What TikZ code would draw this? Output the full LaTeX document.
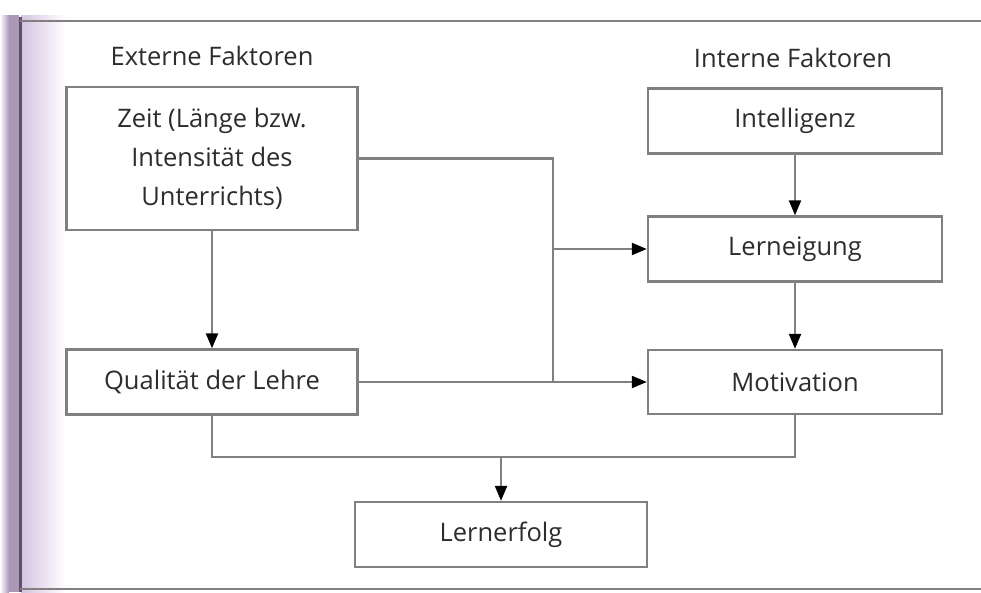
\documentclass[tikz,border=0pt]{standalone}
\usepackage{fontspec}
\setmainfont{Open Sans}
\usetikzlibrary{arrows.meta,positioning,calc}

\definecolor{linegray}{RGB}{128,128,128}
\definecolor{inkgray}{RGB}{45,45,45}
\definecolor{spine}{RGB}{170,152,182}
\definecolor{spinedark}{RGB}{95,80,105}
\definecolor{spinelight}{RGB}{212,196,224}

\tikzset{
  box/.style={draw=linegray, line width=2.4pt, fill=white, minimum width=291pt,
    minimum height=65pt, inner sep=4pt, align=center, text=inkgray,
    font=\fontsize{25.5}{39}\selectfont},
  heading/.style={text=inkgray, font=\fontsize{25.5}{30}\selectfont, inner sep=0pt},
  link/.style={draw=linegray, line width=2.2pt},
  flow/.style={link, -{Triangle[length=15pt,width=12pt,fill=black,color=black]}},
}

\begin{document}
\begin{tikzpicture}[x=1pt,y=-1pt]
  \useasboundingbox (0,0) rectangle (981,592);
  \fill[white] (0,0) rectangle (981,592);

  % book spine shadow on the left edge
  \shade[left color=white, right color=spine] (0,15) rectangle (9,592);
  \fill[spine] (9,15) rectangle (19,592);
  \shade[left color=spinelight, right color=white] (21,15) rectangle (66,592);
  \draw[spinedark, line width=3pt] (20,17) -- (20,592);

  % frame rules top and bottom
  \draw[linegray, line width=2.6pt] (20,21) -- (981,21);
  \draw[linegray, line width=2.6pt] (20,589) -- (981,589);

  % column headings
  \node[heading] (hext) at (212,56) {Externe Faktoren};
  \node[heading] (hint) at (793,58) {Interne Faktoren};

  % external factors
  \node[box, minimum height=143pt] (zeit) at (212,158.5)
    {Zeit (Länge bzw.\\Intensität des\\Unterrichts)};
  \node[box] (qual) at (212,382) {Qualität der Lehre};

  % internal factors
  \node[box, minimum width=294pt] (intel) at (795,121) {Intelligenz};
  \node[box, minimum width=294pt] (neig) at (795,249) {Lerneigung};
  \node[box, minimum width=294pt, minimum height=64pt] (motiv) at (795,382) {Motivation};

  % result
  \node[box, minimum width=292pt] (erfolg) at (501,534.5) {Lernerfolg};

  % connectors
  \coordinate (splitx) at (553,0);
  \coordinate (split) at (splitx |- qual.east);
  \coordinate (merge) at (501,457);

  \draw[flow] (zeit.south) -- (qual.north);
  \draw[link] (zeit.east) -| (split);
  \draw[flow] (split |- neig.west) -- (neig.west);
  \draw[flow] (qual.east) -- (motiv.west);

  \draw[flow] (intel.south) -- (neig.north);
  \draw[flow] (neig.south) -- (motiv.north);

  \draw[link] (qual.south) |- (merge) -| (motiv.south);
  \draw[flow] (merge) -- (erfolg.north);
\end{tikzpicture}
\end{document}
